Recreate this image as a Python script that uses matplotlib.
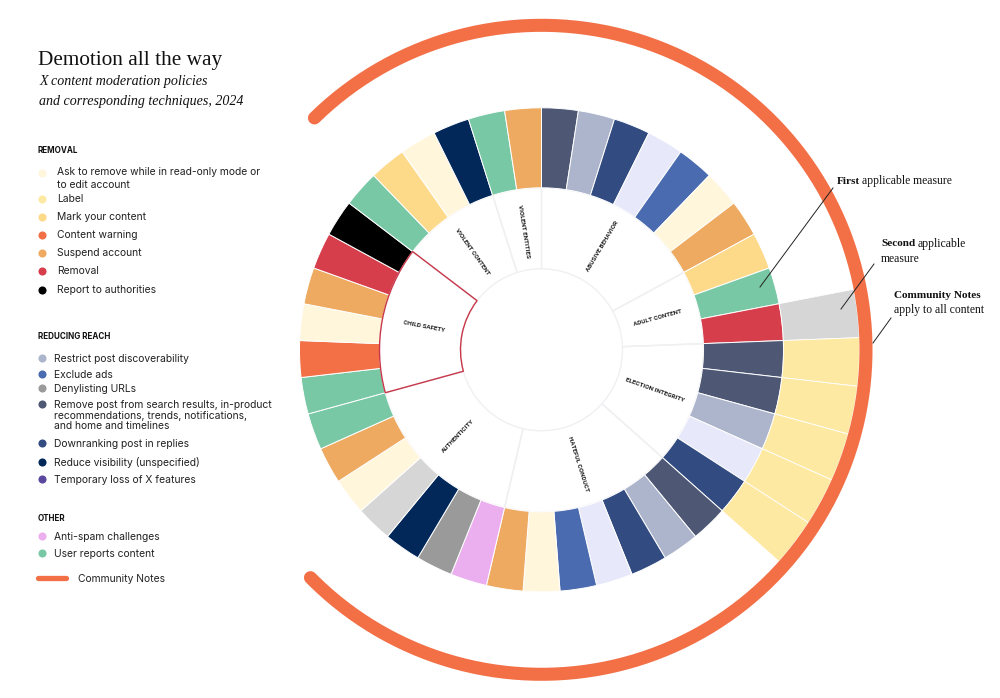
import numpy as np
import matplotlib
matplotlib.use("Agg")
import matplotlib.pyplot as plt

# policies, clockwise from the top
categories = ["ABUSIVE BEHAVIOR", "ADULT CONTENT", "ELECTION INTEGRITY", "HATEFUL CONDUCT",
              "AUTHENTICITY", "CHILD SAFETY", "VIOLENT CONTENT", "VIOLENT ENTITIES"]
category_counts = [7, 3, 5, 7, 7, 6, 4, 2]

first_measure = [
    "Remove post", "Restrict", "Downrank", "Unlisted", "Exclude ads", "Ask", "Suspend",
    "Mark", "Reports", "Removal",
    "Remove post", "Remove post", "Restrict", "Unlisted", "Downrank",
    "Remove post", "Restrict", "Downrank", "Unlisted", "Exclude ads", "Ask", "Suspend",
    "Anti-spam", "Denylist", "Reduce", "Other", "Ask", "Suspend", "Reports",
    "Reports", "Warning", "Ask", "Suspend", "Removal", "Report",
    "Reports", "Mark", "Ask", "Reduce",
    "Reports", "Suspend",
]
# second ring only exists for these policies
second_slots = [9, 10, 11, 12, 13, 14]
second_measure = ["Other", "Label", "Label", "Label", "Label", "Label"]

colors = {
    "Ask": "#FFF6DC", "Label": "#FDE9A2", "Mark": "#FDD98A", "Warning": "#F37047",
    "Suspend": "#EDAA60", "Removal": "#D63E4C", "Report": "#000000",
    "Restrict": "#ADB5CC", "Exclude ads": "#4A6BAF", "Denylist": "#9A9A9A",
    "Remove post": "#4E5875", "Downrank": "#324B80", "Reduce": "#02285A",
    "Temp loss": "#5C479F", "Anti-spam": "#EBAEEE", "Reports": "#78C7A5",
    "Unlisted": "#E7E9FA", "Other": "#D6D6D6",
}

removal_items = ["Label", "Mark your content", "Content warning", "Suspend account", "Removal", "Report to authorities"]
removal_keys = ["Label", "Mark", "Warning", "Suspend", "Removal", "Report"]
removal_y = [198, 216, 234, 252, 270, 289]
reach_items = ["Restrict post discoverability", "Exclude ads", "Denylisting URLs",
               "Remove post from search results, in-product", "Downranking post in replies",
               "Reduce visibility (unspecified)", "Temporary loss of X features"]
reach_keys = ["Restrict", "Exclude ads", "Denylist", "Remove post", "Downrank", "Reduce", "Temp loss"]
reach_y = [358, 374, 388, 404, 443, 462, 479]
other_items = ["Anti-spam challenges", "User reports content"]
other_keys = ["Anti-spam", "Reports"]
other_y = [536, 553]

SANS = "Inter"
SERIF = "Liberation Serif"
ORANGE = "#F37047"
CX, CY, RMAX = 541.5, 349.8, 340

fig = plt.figure(figsize=(10, 6.98), dpi=100)
ax = fig.add_axes([(CX - RMAX) / 1000, (698 - CY - RMAX) / 698, 2 * RMAX / 1000, 2 * RMAX / 698],
                  projection="polar")
ax.set_theta_zero_location("N")
ax.set_theta_direction(-1)
ax.set_rlim(0, RMAX)
ax.axis("off")

n = len(first_measure)
step = 2 * np.pi / n
centers = (np.arange(n) + 0.5) * step

# inner ring with policy names
edges = np.cumsum([0] + category_counts) * step
ax.bar(edges[:-1] + np.diff(edges) / 2, 81, width=np.diff(edges), bottom=81, fill=False,
       edgecolor="#F0F0F3", linewidth=1.0, zorder=1)

ax.bar(centers, 80, width=step, bottom=162, color=[colors[m] for m in first_measure],
       edgecolor="white", linewidth=0.7, zorder=2)
ax.bar(centers[second_slots], 76, width=step, bottom=242, color=[colors[m] for m in second_measure],
       edgecolor="white", linewidth=0.6, zorder=2)

i = categories.index("CHILD SAFETY")
ax.bar(edges[i] + (edges[i + 1] - edges[i]) / 2, 81, width=edges[i + 1] - edges[i], bottom=81,
       fill=False, edgecolor="#C8384A", linewidth=1.0, zorder=3)

for name, a, b in zip(categories, edges[:-1], edges[1:]):
    mid = (a + b) / 2
    deg = np.degrees(mid)
    rot = 90 - deg if deg < 180 else 270 - deg
    ax.text(mid, 120, name, rotation=rot, rotation_mode="anchor", ha="center", va="center",
            fontsize=4.6, fontweight="bold", family="Roboto", color="#222222")

# community notes arc, open on the left
arc = np.radians(np.linspace(-44.4, 225.4, 300))
ax.plot(arc, np.full(arc.shape, 324.5), color=ORANGE, lw=9.4, solid_capstyle="round")

# overlay in pixel coordinates for legend and notes
ov = fig.add_axes([0, 0, 1, 1])
ov.set_xlim(0, 1000)
ov.set_ylim(698, 0)
ov.axis("off")

ov.text(38, 60, "Demotion all the way", family=SERIF, fontsize=15.3, color="#111111", va="center")
ov.text(39, 82, "X content moderation policies", family=SERIF, style="italic", fontsize=10.1, color="#111111", va="center")
ov.text(39, 102, "and corresponding techniques, 2024", family=SERIF, style="italic", fontsize=10.1, color="#111111", va="center")


def head(y, s):
    ov.text(38, y + 0.5, s, family=SANS, fontsize=5.8, fontweight="bold", color="#111111", va="center")


def item(x, y, key, s, dot_y):
    ov.scatter([42], [dot_y], s=34, color=colors[key], linewidths=0)
    ov.text(x, y + 1, s, family=SANS, fontsize=7.45, color="#222222", va="center")


head(150, "REMOVAL")
item(57, 171, "Ask", "Ask to remove while in read-only mode or", 173)
ov.text(57, 185, "to edit account", family=SANS, fontsize=7.45, color="#222222", va="center")
for s, k, y in zip(removal_items, removal_keys, removal_y):
    item(57, y, k, s, y + 1)

head(336, "REDUCING REACH")
for s, k, y in zip(reach_items, reach_keys, reach_y):
    item(54, y, k, s, y)
ov.text(54, 416, "recommendations, trends, notifications,", family=SANS, fontsize=7.45, color="#222222", va="center")
ov.text(54, 426, "and home and timelines", family=SANS, fontsize=7.45, color="#222222", va="center")

head(518, "OTHER")
for s, k, y in zip(other_items, other_keys, other_y):
    item(54, y, k, s, y)

ov.plot([38, 66], [578, 578], color=ORANGE, lw=3.8, solid_capstyle="round")
ov.text(78, 579, "Community Notes", family=SANS, fontsize=7.45, color="#222222", va="center")

# side notes
note = dict(family=SERIF, fontsize=8.4, color="#111111", va="center")
bold_note = dict(family=SERIF, fontsize=8.1, color="#111111", va="center", fontweight="bold")
ov.text(837, 181, "First", **bold_note)
ov.text(862, 181, "applicable measure", **note)
ov.text(881, 243.5, "Second", **bold_note)
ov.text(918, 243.5, "applicable", **note)
ov.text(881, 258.5, "measure", **note)
ov.text(894, 295.5, "Community Notes", **bold_note)
ov.text(894, 310.5, "apply to all content", **note)
ov.plot([833, 760], [188, 287], color="#222222", lw=0.7)
ov.plot([874, 841], [264, 309], color="#222222", lw=0.7)
ov.plot([891, 873], [318, 343], color="#222222", lw=0.7)

fig.savefig("out.png", dpi=100, facecolor="white")
